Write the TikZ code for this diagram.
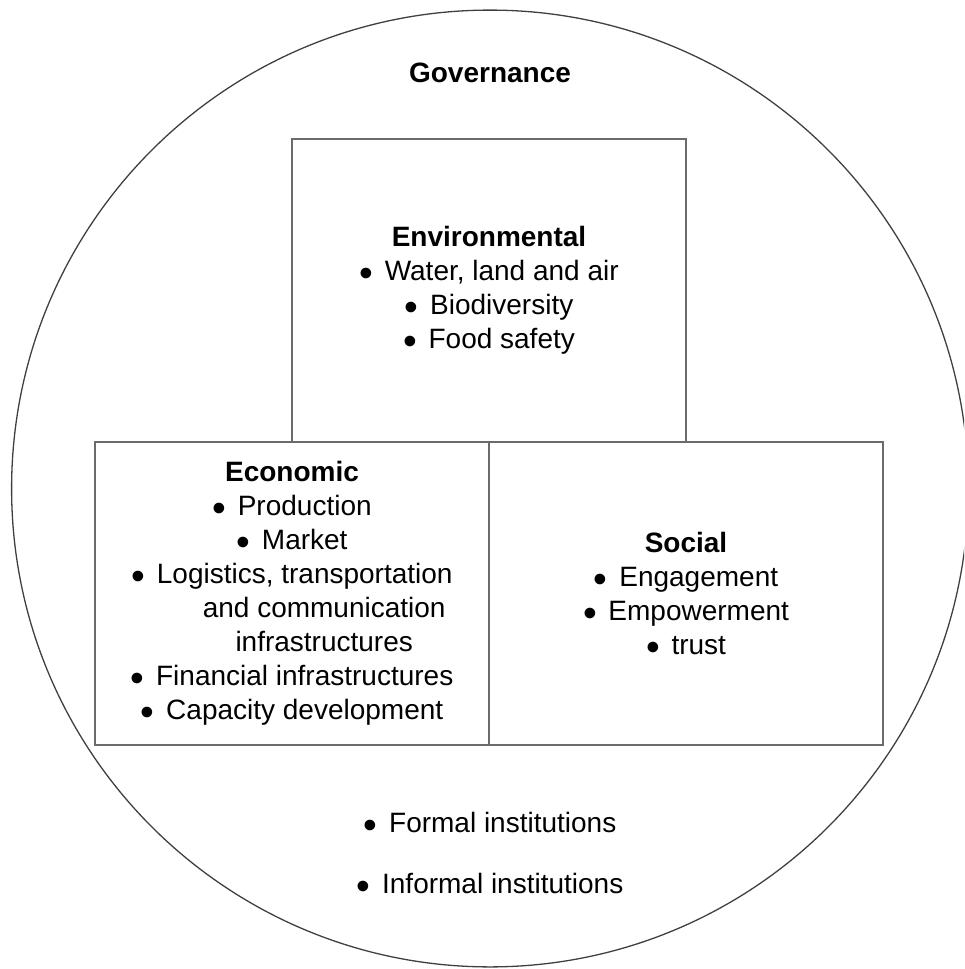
\documentclass[tikz,border=0pt]{standalone}
\usepackage{fontspec}
\usepackage{graphicx}
\setmainfont{Liberation Sans}
\usetikzlibrary{positioning}

\newcommand\itm{\raisebox{-0.22em}[0pt][0pt]{\scalebox{1.4}{\textbullet}}\hspace{0.42em}}

\begin{document}
\begin{tikzpicture}[
    x = 0.5pt, y = -0.5pt, % one unit is one pixel of the figure
    font = \fontsize{14}{17}\selectfont,
    node distance = 0pt % boxes touch each other
    ]

    \tikzset{pillar/.style={
    draw = black!58,
    line width = 0.75pt,
    outer sep = 0pt,
    inner sep = 0pt,
    minimum width = 197pt,
    minimum height = 151.5pt,
    align = center
    }}
    \tikzset{plain/.style={align=center, inner sep=0pt}}

    \useasboundingbox (0,0) rectangle (964,969);
    \clip (0,0) rectangle (964,969);

    % governance ring
    \draw[black!75, line width=0.65pt] (490,488.5) circle [radius=239.2pt];

    \node[plain] (gov) at (490,73) {\textbf{Governance}};

    \node[pillar] (env) at (489,290.5)
    {\textbf{Environmental}\\ \itm Water, land and air\\ \itm Biodiversity\\ \itm Food safety};
    \node[pillar, below left=0pt and 0pt of env.south] (eco)
    {\textbf{Economic}\\ \itm Production\\ \itm Market\\ \itm Logistics, transportation\\
     \hspace*{2.3em}and communication\\ \hspace*{2.3em}infrastructures\\
     \itm Financial infrastructures\\ \itm Capacity development};
    \node[pillar, right=of eco] (soc)
    {\textbf{Social}\\ \itm Engagement\\ \itm Empowerment\\ \itm trust};

    \node[plain] (formal) at (490,822) {\itm Formal institutions};
    \node[plain] (informal) at (490,883) {\itm Informal institutions};
\end{tikzpicture}
\end{document}
